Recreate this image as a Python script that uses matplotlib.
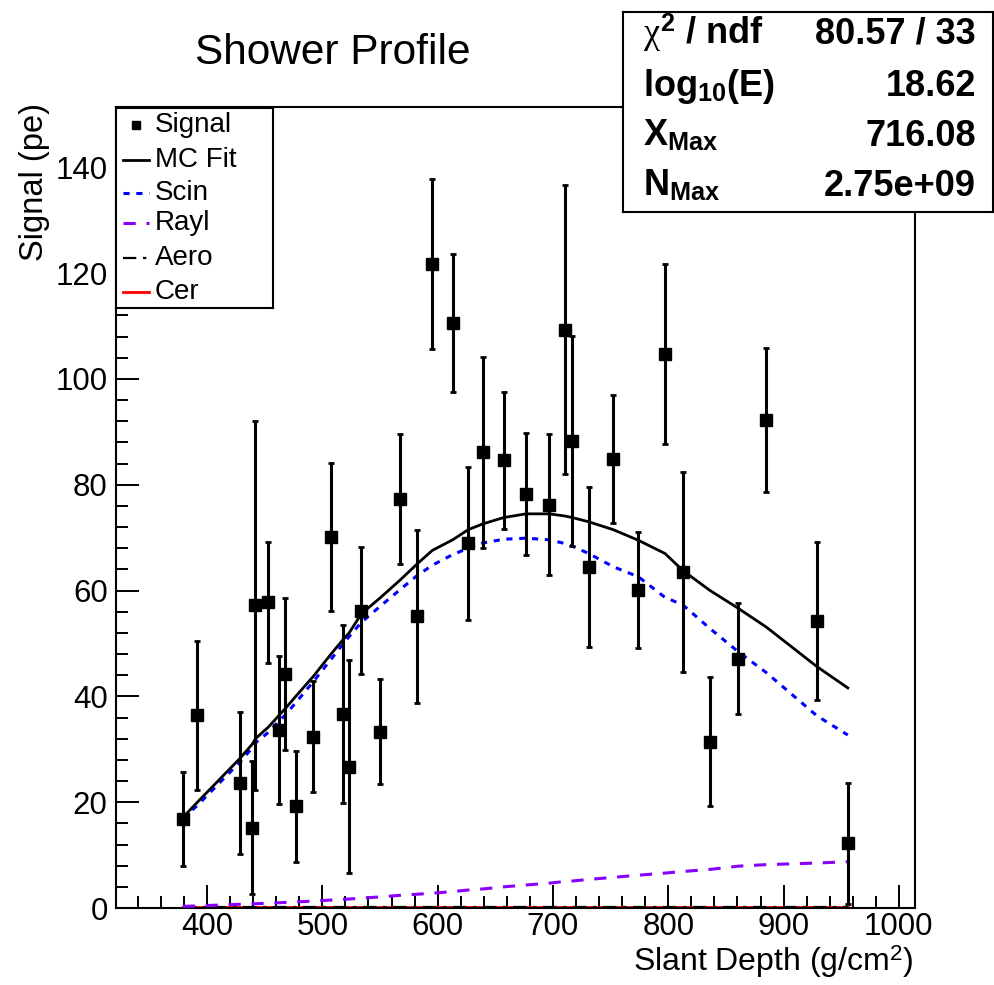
import matplotlib
matplotlib.use("Agg")
import matplotlib.pyplot as plt
from matplotlib.lines import Line2D

plt.rcParams['font.family'] = ['Liberation Sans', 'DejaVu Sans']
plt.rcParams['mathtext.fontset'] = 'custom'
plt.rcParams['mathtext.rm'] = 'Liberation Sans'
plt.rcParams['mathtext.it'] = 'Liberation Serif'
plt.rcParams['mathtext.bf'] = 'Liberation Sans:bold'

# slant depth of each bin (g/cm2)
depth = [378.9, 391.6, 428.6, 439.3, 441.9, 453.2, 462.7, 467.4, 476.9, 492.2,
         507.5, 518.2, 523.2, 533.8, 550.0, 567.5, 582.0, 595.4, 613.1, 626.4,
         639.1, 657.3, 676.7, 696.6, 710.2, 716.6, 731.0, 752.4, 774.1, 797.2,
         812.6, 836.3, 860.3, 885.0, 929.1, 955.7]
signal = [16.9, 36.4, 23.7, 15.2, 57.2, 57.8, 33.7, 44.2, 19.2, 32.4,
          70.1, 36.7, 26.7, 56.2, 33.3, 77.3, 55.1, 121.7, 110.6, 68.9,
          86.1, 84.6, 78.3, 76.2, 109.3, 88.3, 64.5, 84.8, 60.1, 104.7,
          63.5, 31.4, 47.1, 92.2, 54.3, 12.2]
signal_err = [8.9, 14.1, 13.4, 12.5, 34.9, 11.4, 14.0, 14.4, 10.5, 10.5,
              14.0, 16.8, 20.1, 12.0, 9.9, 12.3, 16.4, 16.0, 13.0, 14.5,
              18.0, 12.9, 11.5, 13.3, 27.3, 19.8, 15.1, 12.1, 11.0, 17.0,
              18.9, 12.2, 10.5, 13.6, 14.9, 11.4]
mc_fit = [17.1, 20.0, 28.3, 31.0, 32.0, 34.2, 36.5, 37.6, 40.0, 43.8,
          48.0, 50.8, 52.0, 55.6, 58.6, 62.0, 65.0, 67.6, 69.6, 71.5,
          72.6, 73.8, 74.5, 74.5, 74.1, 73.8, 73.0, 71.5, 69.5, 67.0,
          63.8, 60.0, 56.7, 53.1, 45.6, 41.6]
scin = [16.9, 19.4, 27.6, 30.3, 31.2, 33.2, 35.4, 36.4, 38.8, 42.8,
        47.0, 50.0, 51.3, 54.0, 57.0, 60.2, 62.8, 64.8, 66.8, 68.0,
        69.0, 69.7, 69.9, 69.6, 68.9, 68.4, 67.0, 64.5, 62.6, 58.7,
        57.3, 52.8, 48.5, 44.5, 36.3, 32.7]
rayl = [0.3, 0.4, 0.7, 0.8, 0.8, 0.9, 1.0, 1.05, 1.15, 1.3,
        1.5, 1.65, 1.7, 1.85, 2.1, 2.4, 2.6, 2.8, 3.1, 3.4,
        3.6, 4.0, 4.35, 4.7, 5.0, 5.1, 5.4, 5.8, 6.2, 6.6,
        6.9, 7.3, 7.9, 8.2, 8.5, 8.75]
aero = [0.1, 0.1, 0.1, 0.1, 0.1, 0.1, 0.1, 0.1, 0.1, 0.1,
        0.1, 0.1, 0.1, 0.1, 0.1, 0.1, 0.1, 0.1, 0.1, 0.1,
        0.1, 0.1, 0.1, 0.1, 0.1, 0.1, 0.1, 0.1, 0.1, 0.1,
        0.1, 0.1, 0.1, 0.1, 0.1, 0.1]
cer = [0.2, 0.2, 0.2, 0.2, 0.2, 0.2, 0.2, 0.2, 0.2, 0.2,
       0.2, 0.2, 0.2, 0.2, 0.2, 0.2, 0.2, 0.2, 0.2, 0.2,
       0.2, 0.2, 0.2, 0.2, 0.2, 0.2, 0.2, 0.2, 0.2, 0.2,
       0.2, 0.2, 0.2, 0.2, 0.2, 0.2]

legend_labels = ['Signal', 'MC Fit', 'Scin', 'Rayl', 'Aero', 'Cer']
stat_names = [r'$\chi^{\mathbf{2}}$ / ndf', r'log$_{\mathbf{10}}$(E)',
              r'X$_{\mathbf{Max}}$', r'N$_{\mathbf{Max}}$']
stat_values = ['80.57 / 33', '18.62', '716.08', '2.75e+09']

W, H = 995, 985
fig = plt.figure(figsize=(W / 100, H / 100), dpi=100)
fig.patch.set_facecolor('white')

def px_axes(x0, y0, x1, y1):
    return [x0 / W, 1 - y1 / H, (x1 - x0) / W, (y1 - y0) / H]

ax = fig.add_axes(px_axes(116, 107, 915, 908))

violet = '#8a00ff'
ax.plot(depth, cer, color='red', lw=2, zorder=2)
ax.plot(depth, aero, color='black', lw=1.6, dashes=(6, 3, 1.5, 3), zorder=3)
ax.plot(depth, rayl, color=violet, lw=2.2, dashes=(4, 3.5), zorder=3)
ax.plot(depth, scin, color='blue', lw=2.2, dashes=(2, 2.2), zorder=3)
ax.plot(depth, mc_fit, color='black', lw=2, zorder=4)
ax.errorbar(depth, signal, yerr=signal_err, fmt='s', color='black', ms=8,
            elinewidth=2.2, capsize=2.5, capthick=2, zorder=5)

ax.set_xlim(321, 1014)
ax.set_ylim(0, 151.4)
ax.set_xticks(range(400, 1001, 100))
ax.set_xticks(range(340, 1014, 20), minor=True)
ax.set_yticks(range(0, 141, 20))
ax.set_yticks(range(0, 152, 4), minor=True)
ax.tick_params(which='both', direction='in', top=False, right=False,
               width=1.4, labelsize=22.5)
ax.tick_params(which='major', length=16.5)
ax.tick_params(which='minor', length=8.5)
ax.tick_params(axis='x', pad=3)
ax.tick_params(axis='y', pad=6)
for s in ax.spines.values():
    s.set_linewidth(1.5)

fig.text(333 / W, 1 - 53 / H, 'Shower Profile', ha='center', va='center',
         fontsize=30.5)
fig.text(913 / W, 1 - 962 / H, r'Slant Depth (g/cm$^{2}$)', ha='right',
         va='center', fontsize=23)
fig.text(35 / W, 1 - 103 / H, 'Signal (pe)', rotation=90, ha='center',
         va='top', fontsize=23.5)

# legend box (pixel units inside the box)
lg = fig.add_axes(px_axes(116, 108, 273, 308))
lg.set_xlim(0, 157)
lg.set_ylim(200, 0)
lg.set_xticks([])
lg.set_yticks([])
for s in lg.spines.values():
    s.set_linewidth(1.5)
rows = [17, 52, 85, 115, 150, 184]
styles = [dict(color='black', lw=2),
          dict(color='blue', lw=2.2, dashes=(2, 2.2)),
          dict(color=violet, lw=2.2, dashes=(4, 3.5)),
          dict(color='black', lw=1.6, dashes=(6, 3, 1.5, 3)),
          dict(color='red', lw=2)]
lg.add_line(Line2D([20], [rows[0]], ls='none', marker='s', ms=6,
                   color='black'))
for r, st in zip(rows[1:], styles):
    lg.add_line(Line2D([7, 33], [r, r], **st))
for r, lab in zip(rows, legend_labels):
    lg.text(39, r, lab, va='center', ha='left', fontsize=20)

# fit statistics box
sb = fig.add_axes(px_axes(623, 12, 993, 212))
sb.set_xlim(0, 370)
sb.set_ylim(200, 0)
sb.set_xticks([])
sb.set_yticks([])
for s in sb.spines.values():
    s.set_linewidth(1.5)
for b, name, val in zip([32, 84, 134, 184], stat_names, stat_values):
    sb.text(20, b, name, ha='left', va='baseline', fontsize=26,
            fontweight='bold')
    sb.text(353, b, val, ha='right', va='baseline', fontsize=26,
            fontweight='bold')

fig.savefig('out.png', dpi=100)
